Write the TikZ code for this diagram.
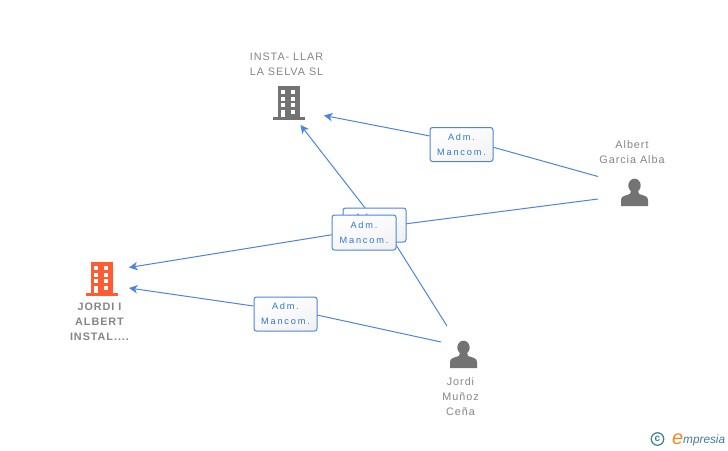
\documentclass[tikz,border=0pt]{standalone}
\usepackage{fontspec}
\setmainfont{Liberation Sans}
\newfontfamily\lblfont[LetterSpace=9]{Liberation Sans}
\newfontfamily\relfont[LetterSpace=20]{Liberation Sans}
\usetikzlibrary{arrows.meta}
\definecolor{linkblue}{HTML}{4A86E0}
\definecolor{boxtext}{HTML}{2F76D8}
\definecolor{labelgrey}{HTML}{858585}
\definecolor{icongrey}{HTML}{737373}
\definecolor{iconred}{HTML}{FF5C33}
\definecolor{logoteal}{HTML}{3F7F96}
\definecolor{logoorange}{HTML}{EE8A22}
\tikzset{
  x=1pt,y=-1pt,
  relbox/.style={draw=linkblue,line width=1pt,rounded corners=2.5pt,minimum width=63pt,minimum height=34pt,inner sep=0pt,
    top color=white,bottom color=white!95!black,shading angle=20,
    font=\relfont\fontsize{9.2}{15}\selectfont,text=boxtext,align=center},
  lbl/.style={font=\lblfont\fontsize{10.8}{15}\selectfont,text=labelgrey,align=center,inner sep=0pt},
  link/.style={draw=linkblue,line width=1pt},
  tiplink/.style={link,-{Stealth[length=8.5pt,width=8.5pt,inset=2.5pt]}},
  pics/building/.style={code={
    \fill[#1] (-11,-16) rectangle (11,15);
    \fill[#1] (-16,15) rectangle (16,18);
    \foreach \yy in {-12,-5.5,1,7.5}{\fill[white] (-8,\yy) rectangle (-3.7,\yy+4.2);}
    \foreach \yy in {-12,-5.5,1,7.5}{\fill[white] (2,\yy) rectangle (6.3,\yy+4.2);}
    \fill[white] (-8,7.5) rectangle (-3.7,15);
  }},
  pics/person/.style={code={
    \fill[icongrey] (0,-7) ellipse (6.2 and 6.8);
    \fill[icongrey] (-13.5,13.5) -- (-13.5,7.5) .. controls (-13.5,3.5) and (-9,3) .. (-4.5,1.5) -- (-3.5,-2) -- (3.5,-2) -- (4.5,1.5) .. controls (9,3) and (13.5,3.5) .. (13.5,7.5) -- (13.5,13.5) -- cycle;
  }}
}
\begin{document}
\begin{tikzpicture}
\useasboundingbox (0,0) rectangle (728,450);
\fill[white] (0,0) rectangle (728,450);
% free ends
\coordinate (tipA) at (324,115.5);
\coordinate (tipB) at (300.5,125);
\coordinate (tipC) at (129,267.5);
\coordinate (tipD) at (129,288);
\coordinate (albA) at (598,176.5);
\coordinate (albB) at (598,199);
\coordinate (jorA) at (447,326);
\coordinate (jorB) at (441,342);
% boxes
\node[relbox] (boxA) at (461.5,144.5) {Adm.\\Mancom.};
\node[relbox] (boxD) at (285.5,314) {Adm.\\Mancom.};
\path (374.5,225) node[minimum width=63pt,minimum height=34pt,inner sep=0pt] (boxBpos) {};
\path (364,232.5) node[minimum width=64pt,minimum height=35pt,inner sep=0pt] (boxCpos) {};
% connectors
\draw[link] (albA) -- (boxA.-5);
\draw[tiplink] (boxA.165) -- (tipA);
\draw[link] (jorB) -- (boxD.-2);
\draw[tiplink] (boxD.166) -- (tipD);
\draw[link] (jorA) -- (boxBpos.-41);
\draw[tiplink] (boxBpos.119) -- (tipB);
\draw[link] (albB) -- (boxCpos.13);
\draw[tiplink] (boxCpos.184) -- (tipC);
\node[relbox] (boxB) at (374.5,225) {Adm.\hspace*{12pt}\\Mancom.\hspace*{12pt}};
\node[relbox,minimum width=64pt,minimum height=35pt] (boxC) at (364,232.5) {Adm.\\Mancom.};
% entities
\pic at (289,102) {building=icongrey};
\pic at (102,278) {building=iconred};
\pic at (634.5,192.5) {person};
\pic at (463.5,354.5) {person};
\node[lbl] (nInsta) at (286.5,64.5) {INSTA- LLAR\\LA SELVA SL};
\node[lbl,font=\lblfont\bfseries\fontsize{10.8}{15}\selectfont] (nJordiA) at (99.5,322) {JORDI I\\ALBERT\\INSTAL....};
\node[lbl] (nAlbert) at (632,152) {Albert\\Garcia Alba};
\node[lbl] (nJordiM) at (460.5,396.5) {Jordi\\Muñoz\\Ceña};
% logo
\node[draw=logoteal,line width=1.2pt,circle,minimum size=12.5pt,inner sep=0pt,text=logoteal,font=\fontsize{10}{10}\selectfont\bfseries] (logoC) at (657.5,439) {c};
\node[anchor=base west,inner sep=0pt,text=logoorange,font=\itshape\fontsize{20}{20}\selectfont] (logoE) at (672,444) {e};
\node[anchor=base west,inner sep=0pt,text=logoteal,font=\itshape\fontsize{11.8}{12}\selectfont] (logoT) at (683,443.5) {mpresia};
\end{tikzpicture}
\end{document}
